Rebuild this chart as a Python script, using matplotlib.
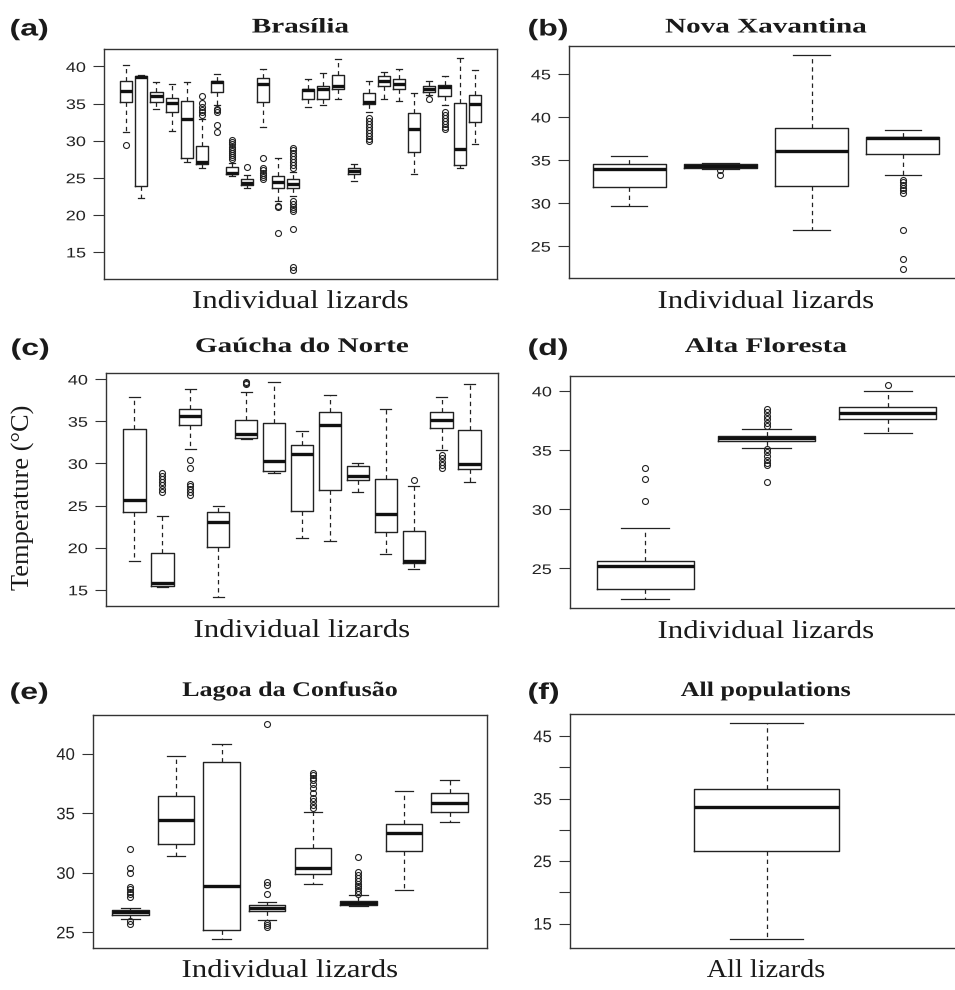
import matplotlib
matplotlib.use("Agg")
import matplotlib.pyplot as plt
from matplotlib.patheffects import AbstractPathEffect
from matplotlib.transforms import Affine2D

# ---------------- data ----------------
# (a) Brasília : 24 individual lizards
bra_whislo = [31.2, 22.3, 34.3, 31.3, 27.1, 26.3, 34.8, 25.3, 23.6, 31.9, 21.9, 22.5,
              34.5, 34.8, 35.6, 24.6, 33.9, 35.6, 35.4, 25.5, 36.1, 34.8, 26.3, 29.6]
bra_q1 = [35.2, 23.9, 35.2, 33.9, 27.6, 26.9, 36.6, 25.5, 24.0, 35.2, 23.6, 23.6,
          35.6, 35.6, 36.9, 25.5, 34.9, 37.4, 36.9, 28.5, 36.6, 36.0, 26.7, 32.5]
bra_med = [36.7, 38.6, 36.0, 35.1, 32.9, 27.1, 37.9, 25.6, 24.3, 37.6, 24.4, 24.2,
           36.8, 37.0, 37.4, 25.9, 35.2, 38.0, 37.6, 31.6, 37.0, 37.2, 28.9, 35.0]
bra_q3 = [38.0, 38.75, 36.5, 35.8, 35.3, 29.3, 38.0, 26.4, 24.8, 38.4, 25.2, 24.8,
          37.0, 37.4, 38.8, 26.3, 36.4, 38.7, 38.3, 33.7, 37.3, 37.5, 35.1, 36.2]
bra_whishi = [40.2, 38.85, 37.9, 37.6, 37.9, 32.9, 39.0, 27.0, 25.4, 39.7, 27.6, 25.8,
              38.3, 39.1, 41.0, 26.8, 38.1, 39.3, 39.6, 36.4, 38.0, 38.7, 41.2, 39.5]
bra_fliers = [[29.4], [], [], [], [],
              [33.4, 33.9, 34.1, 34.5, 35.1, 36.0],
              [34.3, 34.1, 33.8, 32.1, 31.2],
              [27.5, 27.8, 28.0, 28.3, 28.6, 28.9, 29.2, 29.5, 29.8, 30.1],
              [26.4],
              [27.6, 26.3, 26.0, 25.7, 25.4, 25.1, 24.8],
              [21.2, 21.0, 17.6],
              [26.3, 26.7, 27.1, 27.5, 27.9, 28.3, 28.7, 29.0, 21.9, 21.5, 21.1, 20.8, 20.5, 18.1, 13.0, 12.5],
              [], [], [], [],
              [33.0, 32.6, 32.2, 31.8, 31.4, 31.0, 30.6, 30.2, 29.9],
              [], [], [], [35.6],
              [33.9, 33.5, 33.1, 32.7, 32.3, 31.9, 31.6],
              [], []]

# (b) Nova Xavantina
nx_whislo = [29.7, 34.0, 26.86, 33.28]
nx_q1 = [31.85, 34.1, 32.04, 35.7]
nx_med = [34.0, 34.36, 35.99, 37.5]
nx_q3 = [34.56, 34.56, 38.7, 37.7]
nx_whishi = [35.5, 34.67, 47.24, 38.5]
nx_fliers = [[], [33.8, 33.3], [],
             [32.7, 32.4, 32.1, 31.8, 31.5, 31.2, 26.86, 23.5, 22.3]]

# (c) Gaúcha do Norte
gn_whislo = [18.4, 15.3, 31.7, 14.1, 32.9, 28.8, 21.1, 20.8, 26.6, 19.3, 17.5, 31.6, 27.8]
gn_q1 = [24.2, 15.4, 34.5, 20.1, 33.0, 29.1, 24.4, 26.9, 28.0, 21.8, 18.2, 34.2, 29.3]
gn_med = [25.6, 15.8, 35.6, 23.1, 33.5, 30.3, 31.1, 34.5, 28.5, 24.0, 18.45, 35.2, 29.9]
gn_q3 = [34.1, 19.4, 36.4, 24.2, 35.2, 34.8, 32.2, 36.1, 29.7, 28.2, 22.0, 36.1, 34.0]
gn_whishi = [37.9, 23.7, 38.8, 25.0, 38.5, 39.7, 33.9, 38.1, 30.1, 36.4, 27.3, 37.9, 39.4]
gn_fliers = [[], [26.6, 27.0, 27.4, 27.8, 28.2, 28.5, 28.9],
             [30.4, 29.4, 27.6, 27.3, 27.0, 26.6, 26.2],
             [], [39.4, 39.55, 39.7], [], [], [], [], [],
             [28.0], [31.0, 30.6, 30.2, 29.8, 29.5], []]

# (d) Alta Floresta
af_whislo = [22.39, 35.2, 36.43]
af_q1 = [23.29, 35.79, 37.6]
af_med = [25.17, 36.04, 38.15]
af_q3 = [25.65, 36.2, 38.65]
af_whishi = [28.43, 36.74, 40.0]
af_fliers = [[30.73, 32.56, 33.46],
             [37.0, 37.3, 37.6, 37.9, 38.2, 38.5, 35.1, 34.8, 34.5, 34.2, 33.9, 33.7, 32.3],
             [40.53]]

# (e) Lagoa da Confusão
lc_whislo = [26.1, 31.4, 24.41, 26.01, 29.04, 27.2, 28.54, 34.24]
lc_q1 = [26.49, 32.42, 25.17, 26.77, 29.94, 27.28, 31.85, 35.08]
lc_med = [26.68, 34.44, 28.88, 27.08, 30.37, 27.47, 33.37, 35.9]
lc_q3 = [26.85, 36.49, 39.27, 27.28, 32.1, 27.67, 34.07, 36.69]
lc_whishi = [27.08, 39.83, 40.84, 27.56, 35.14, 28.15, 36.9, 37.8]
lc_fliers = [[27.98, 28.2, 28.4, 28.6, 28.8, 29.95, 30.4, 31.97, 25.95, 25.67],
             [], [],
             [28.2, 28.96, 29.24, 42.53, 25.79, 25.6, 25.45],
             [35.42, 35.7, 36.0, 36.3, 36.7, 37.1, 37.5, 37.8, 38.0, 38.2, 38.37],
             [28.26, 28.5, 28.7, 28.9, 29.1, 29.3, 29.6, 29.85, 30.08, 31.35],
             [], []]

# (f) All populations
all_whislo = [12.47]
all_q1 = [26.67]
all_med = [33.6]
all_q3 = [36.56]
all_whishi = [47.15]
all_fliers = [[]]


# ---------------- helpers ----------------
class Stretch(AbstractPathEffect):
    """Widen the glyphs of a text (the reference figure is stretched sideways)."""

    def __init__(self, sx=1.0, sy=1.0, anchor='center'):
        super().__init__()
        self.sx, self.sy, self.anchor = sx, sy, anchor

    def draw_path(self, renderer, gc, tpath, affine, rgbFace=None):
        ext = tpath.get_extents()
        if self.anchor == 'right':
            x0 = ext.x1
        elif self.anchor == 'left':
            x0 = ext.x0
        else:
            x0 = 0.5 * (ext.x0 + ext.x1)
        y0 = 0.5 * (ext.y0 + ext.y1)
        pre = Affine2D().translate(-x0, -y0).scale(self.sx, self.sy).translate(x0, y0)
        renderer.draw_path(gc, tpath, pre + affine, rgbFace)


W, H = 955, 990
fig = plt.figure(figsize=(W / 100, H / 100), dpi=100)

LINE = '#222222'
SERIF = ['Liberation Serif', 'DejaVu Serif']
SANS = ['Liberation Sans', 'DejaVu Sans']


def px_axes(l, t, r, b):
    return fig.add_axes([l / W, 1 - b / H, (r - l) / W, (b - t) / H])


def panel(ax, wlo, q1, med, q3, whi, fl, yticks, ylabels, width=0.8, tsize=10, tsx=1.3):
    stats = []
    for i in range(len(med)):
        stats.append(dict(whislo=wlo[i], q1=q1[i], med=med[i], q3=q3[i],
                          whishi=whi[i], fliers=fl[i]))
    n = len(stats)
    ax.bxp(stats, positions=range(1, n + 1), widths=width, showfliers=True,
           boxprops=dict(color=LINE, linewidth=1.0),
           medianprops=dict(color='#111111', linewidth=2.4, solid_capstyle='butt'),
           whiskerprops=dict(color=LINE, linewidth=0.9, linestyle=(0, (3.5, 3))),
           capprops=dict(color=LINE, linewidth=0.9),
           flierprops=dict(marker='o', markerfacecolor='none', markeredgecolor=LINE,
                           markersize=4.3, markeredgewidth=0.8, linestyle='none'))
    allv = wlo + whi + [v for f in fl for v in f]
    lo, hi = min(allv), max(allv)
    pad = 0.04 * (hi - lo)
    ax.set_ylim(lo - pad, hi + pad)
    xp = 0.04 * n
    ax.set_xlim(0.5 - xp, n + 0.5 + xp)
    ax.set_xticks([])
    ax.set_yticks(yticks)
    ax.set_yticklabels(ylabels, fontfamily=SANS, fontsize=tsize, color='#222222')
    ax.tick_params(axis='y', direction='out', length=7.6, width=0.8, color='#333333', pad=5.5)
    for lab in ax.get_yticklabels():
        lab.set_path_effects([Stretch(sx=tsx, anchor='right')])
    for s in ax.spines.values():
        s.set_linewidth(1.0)
        s.set_color('#333333')
    ax.set_facecolor('white')


def labels(cx, cy_title, title, tag, tagx, cy_x, xlab, tsx=1.4, xsx=1.2):
    fig.text(cx / W, 1 - cy_title / H, title, ha='center', va='center',
             fontfamily=SERIF, fontweight='bold', fontsize=15, color='#1a1a1a',
             path_effects=[Stretch(sx=tsx)])
    fig.text(tagx / W, 1 - (cy_title + 1.5) / H, tag, ha='left', va='center',
             fontfamily=SANS, fontweight='bold', fontsize=16.5, color='#1a1a1a',
             path_effects=[Stretch(sx=1.4, anchor='left')])
    fig.text(cx / W, 1 - cy_x / H, xlab, ha='center', va='center',
             fontfamily=SERIF, fontsize=18.5, color='#1a1a1a',
             path_effects=[Stretch(sx=xsx)])


t40 = [15, 20, 25, 30, 35, 40]

ax_a = px_axes(104, 49, 497, 279)
panel(ax_a, bra_whislo, bra_q1, bra_med, bra_q3, bra_whishi, bra_fliers,
      t40, [str(t) for t in t40])
labels(300.5, 27.5, 'Brasília', '(a)', 10, 302, 'Individual lizards')

ax_b = px_axes(569, 46, 963, 278)
tb = [25, 30, 35, 40, 45]
panel(ax_b, nx_whislo, nx_q1, nx_med, nx_q3, nx_whishi, nx_fliers,
      tb, [str(t) for t in tb])
labels(766, 27.5, 'Nova Xavantina', '(b)', 528, 302, 'Individual lizards')

ax_c = px_axes(106, 373, 498, 606)
panel(ax_c, gn_whislo, gn_q1, gn_med, gn_q3, gn_whishi, gn_fliers,
      t40, [str(t) for t in t40])
labels(302, 347, 'Gaúcha do Norte', '(c)', 11, 631, 'Individual lizards')
fig.text(23 / W, 1 - 497 / H, 'Temperature (\u00b0C)', rotation=90, ha='center', va='center',
         fontfamily=SERIF, fontsize=19, color='#1a1a1a')

ax_d = px_axes(570, 376, 963, 608)
td = [25, 30, 35, 40]
panel(ax_d, af_whislo, af_q1, af_med, af_q3, af_whishi, af_fliers,
      td, [str(t) for t in td])
labels(766, 347, 'Alta Floresta', '(d)', 528, 632, 'Individual lizards')

ax_e = px_axes(93, 715, 487, 948)
panel(ax_e, lc_whislo, lc_q1, lc_med, lc_q3, lc_whishi, lc_fliers,
      td, [str(t) for t in td], tsize=12, tsx=1.0)
labels(290, 691, 'Lagoa da Confusão', '(e)', 10, 971, 'Individual lizards', tsx=1.25)

ax_f = px_axes(570, 714, 963, 948)
tf = [15, 20, 25, 30, 35, 40, 45]
panel(ax_f, all_whislo, all_q1, all_med, all_q3, all_whishi, all_fliers,
      tf, ['15', '', '25', '', '35', '', '45'], width=0.4, tsize=12, tsx=1.0)
labels(766, 691, 'All populations', '(f)', 528, 971, 'All lizards', tsx=1.25, xsx=1.1)

fig.savefig('out.png', dpi=100, facecolor='white')
